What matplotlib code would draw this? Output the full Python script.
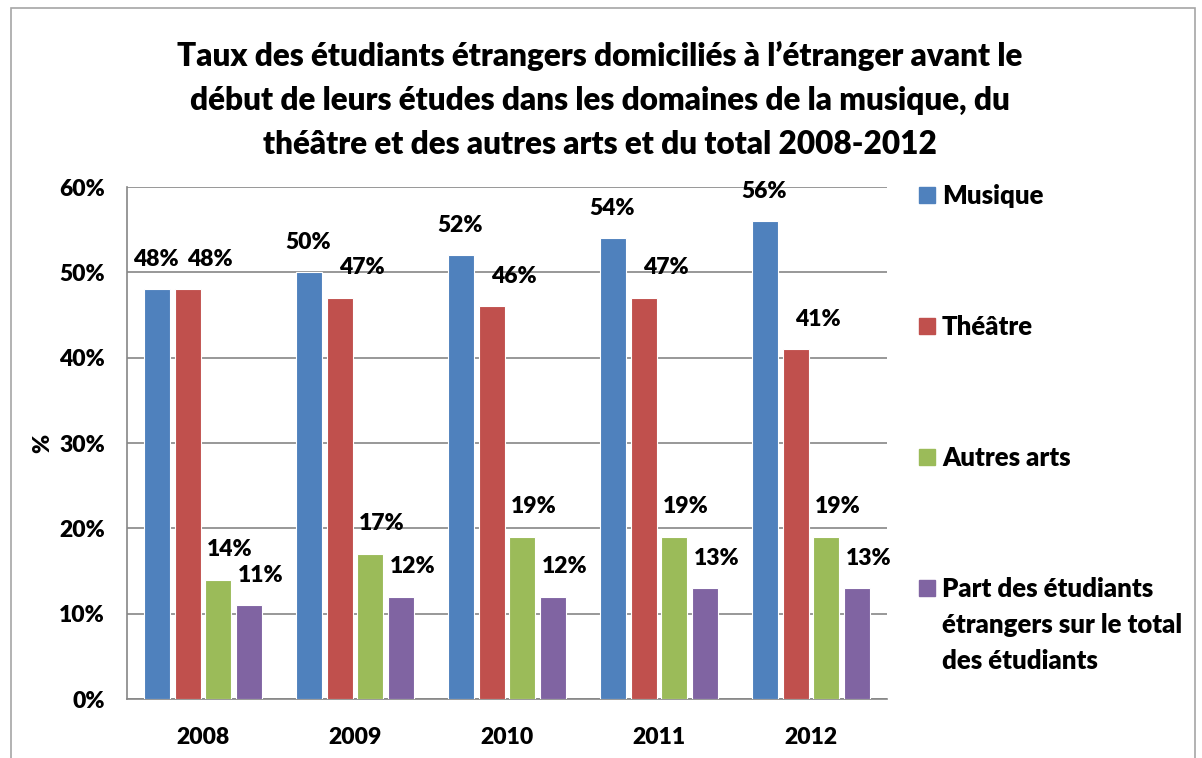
import numpy as np
import matplotlib.pyplot as plt
from matplotlib.patches import Rectangle

years = ['2008', '2009', '2010', '2011', '2012']
musique = [48, 50, 52, 54, 56]
theatre = [48, 47, 46, 47, 41]
autres_arts = [14, 17, 19, 19, 19]
part_total = [11, 12, 12, 13, 13]

series_names = ['Musique', 'Théâtre', 'Autres arts',
                'Part des étudiants\nétrangers sur le total\ndes étudiants']
colors = ['#4F81BD', '#C0504D', '#9BBB59', '#8064A2']

title = ("Taux des étudiants étrangers domiciliés à l’étranger avant le\n"
         "début de leurs études dans les domaines de la musique, du\n"
         "théâtre et des autres arts et du total 2008-2012")


def main():
    plt.rcParams['font.family'] = ['Lato', 'DejaVu Sans']
    plt.rcParams['font.weight'] = 'bold'
    fs = 16.5

    W, H = 1202, 758
    fig = plt.figure(figsize=(W / 100, H / 100), dpi=100)
    # axes box in pixels: left 127, right 887, top 187, bottom 699
    ax = fig.add_axes([127 / W, 1 - 699 / H, (887 - 127) / W, (699 - 187) / H])

    # outer chart frame
    fig.patches.append(Rectangle((11 / W, -0.05), (1195 - 11) / W, 1 - 8 / H + 0.05,
                                 transform=fig.transFigure, fill=False,
                                 edgecolor='#A6A6A6', linewidth=1.2))

    x = np.arange(len(years))
    width = 0.17
    step = 0.2
    all_series = [musique, theatre, autres_arts, part_total]
    label_dx = [-1, 16, 8, 9]  # points, imitates Excel label nudging
    for i, vals in enumerate(all_series):
        pos = x + (i - 1.5) * step
        bars = ax.bar(pos, vals, width, color=colors[i], edgecolor='white',
                      linewidth=0.8, zorder=3)
        for b, v in zip(bars, vals):
            ax.annotate(f'{v}%', (b.get_x() + b.get_width() / 2, v),
                        xytext=(label_dx[i], 14), textcoords='offset points',
                        ha='center', va='bottom', fontsize=fs,
                        fontweight='heavy')

    ax.set_xlim(-0.5, len(years) - 0.5)
    ax.set_ylim(0, 60)
    ax.set_yticks(range(0, 61, 10))
    ax.set_yticklabels([f'{t}%' for t in range(0, 61, 10)])
    ax.set_xticks(x)
    ax.set_xticklabels(years)
    ax.tick_params(axis='y', length=0, labelsize=fs, pad=16)
    ax.tick_params(axis='x', length=0, labelsize=fs, pad=20)
    for lab in ax.get_xticklabels() + ax.get_yticklabels():
        lab.set_fontweight('heavy')
    ax.yaxis.grid(True, color='#868686', linewidth=1.2, zorder=0)
    ax.set_axisbelow(True)
    for s in ['top', 'right']:
        ax.spines[s].set_visible(False)
    for s in ['left', 'bottom']:
        ax.spines[s].set_color('#868686')
        ax.spines[s].set_linewidth(1.2)
    ax.set_ylabel('%', fontsize=fs, fontweight='heavy', labelpad=4)

    fig.text(600 / W, 1 - 100 / H, title, ha='center', va='center',
             fontsize=22.7, fontweight='heavy', linespacing=1.63)

    # legend drawn by hand so the square sits on the first text line
    leg_y = [195, 326, 457, 588]
    for name, c, y in zip(series_names, colors, leg_y):
        fig.patches.append(Rectangle((919 / W, 1 - (y + 8) / H), 16 / W, 16 / H,
                                     transform=fig.transFigure, color=c))
        fig.text(942 / W, 1 - (y - 11) / H, name, ha='left', va='top',
                 fontsize=18.5, fontweight='heavy', linespacing=1.6)

    plt.savefig('out.png', dpi=100)
    plt.close('all')


if __name__ == '__main__':
    main()
